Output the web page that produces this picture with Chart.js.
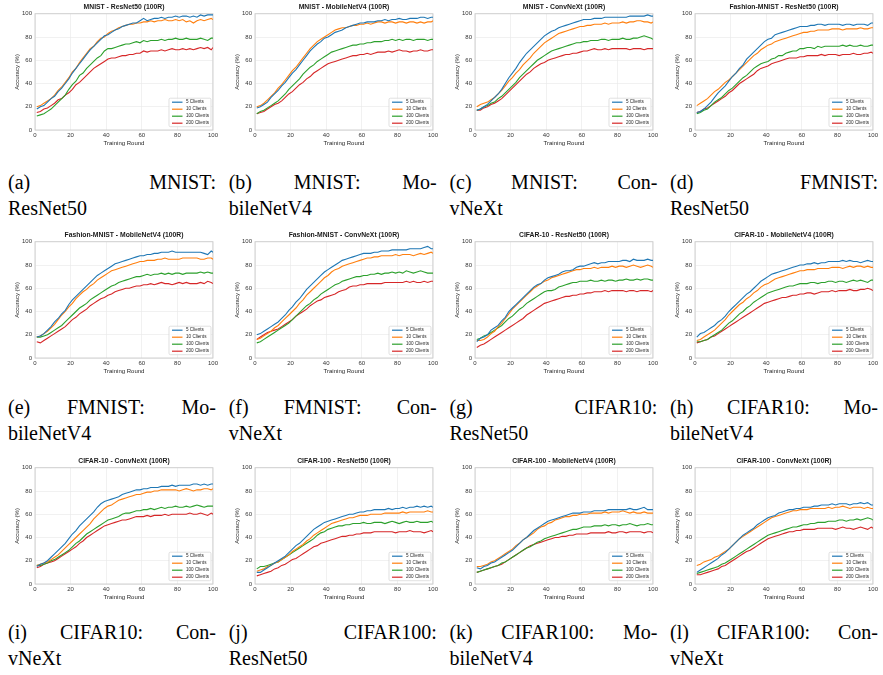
<!DOCTYPE html>
<html><head><meta charset="utf-8">
<script src="https://cdn.jsdelivr.net/npm/chart.js@4/dist/chart.umd.min.js"></script>
<style>
body{margin:0;background:#fff;width:883px;height:675px;position:relative;overflow:hidden}
canvas.c{position:absolute}
.cap{position:absolute;font-family:"Liberation Serif","DejaVu Serif",serif;font-size:20px;color:#000;width:208px;line-height:26px;white-space:nowrap}
.l1{display:flex;justify-content:space-between}
</style></head><body>
<script>
const rounds = [1,3,5,7,9,11,13,15,17,19,21,23,25,27,29,31,33,35,37,39,41,43,45,47,49,51,53,55,57,59,61,63,65,67,69,71,73,75,77,79,81,83,85,87,89,91,93,95,97,99,100];

// MNIST - ResNet50
const mnR5   = [18,20,21,24,27,29,33,36,40,44,49,53,57,61,65,69,72,75,78,81,82,84,86,87,89,90,91,92,92,94,96,94,95,96,96,97,96,97,97,98,97,98,98,97,98,97,99,98,99,99,99];
const mnR10  = [20,21,23,25,27,30,34,37,41,45,50,53,58,62,66,70,72,76,79,80,83,85,86,88,89,90,91,91,92,92,93,93,94,93,94,94,95,94,94,95,94,95,93,94,92,94,95,94,95,96,95];
const mnR100 = [12,13,14,16,18,21,24,27,30,35,39,42,47,49,53,56,59,62,64,68,70,70,71,72,73,74,74,75,76,75,77,76,77,77,77,78,77,78,78,79,78,78,79,78,78,78,79,78,77,79,79];
const mnR200 = [15,16,18,19,21,23,26,27,30,32,35,39,41,44,47,50,53,55,57,59,61,62,62,63,64,64,65,65,66,66,68,67,68,68,68,69,68,69,70,69,69,70,69,70,69,70,71,70,71,69,71];
// MNIST - MobileNetV4
const mnM5   = [19,20,22,24,28,31,34,38,41,45,49,52,56,60,64,68,71,74,76,79,80,82,84,85,86,88,89,90,91,92,92,93,93,93,94,94,95,94,95,95,96,95,95,96,96,96,97,97,96,97,97];
const mnM10  = [20,21,23,26,29,32,36,39,43,47,51,54,58,62,66,70,73,76,78,80,82,84,86,87,88,88,89,90,90,91,91,92,91,92,93,93,92,93,93,92,93,93,92,93,93,92,93,92,93,93,94];
const mnM100 = [14,16,17,19,21,23,25,28,31,35,38,41,44,48,51,54,56,59,61,63,65,67,68,69,70,71,72,73,73,74,74,75,75,76,76,76,77,77,78,77,78,77,78,78,77,78,78,78,77,78,78];
const mnM200 = [14,15,16,18,20,22,23,25,28,31,33,36,39,41,44,46,49,51,53,55,57,58,59,60,61,62,63,64,64,65,65,66,65,66,67,67,67,68,67,68,69,68,68,67,68,68,69,68,68,69,69];
// MNIST - ConvNeXt
const mnC5   = [17,18,20,22,25,28,31,35,40,45,49,53,58,62,66,69,72,75,78,81,83,85,86,88,89,90,91,92,93,94,95,95,95,96,96,96,97,97,97,97,97,97,97,98,98,98,98,98,99,98,98];
const mnC10  = [20,22,23,24,26,28,31,34,38,42,45,49,52,56,59,62,66,69,72,75,77,79,81,83,84,85,86,87,88,89,89,90,90,91,91,91,92,91,92,92,92,93,92,93,93,94,94,93,93,92,93];
const mnC100 = [17,18,20,21,23,24,27,29,32,35,38,41,45,48,51,54,57,60,62,64,66,68,69,70,71,72,73,74,75,75,76,76,77,77,77,78,78,77,78,78,78,79,78,78,79,79,80,81,80,79,78];
const mnC200 = [17,17,19,20,22,23,25,27,30,33,36,39,42,45,48,50,53,55,57,58,60,61,62,63,64,65,65,66,66,67,68,68,69,70,69,69,70,69,70,70,70,70,70,69,70,70,70,69,70,70,70];
// Fashion-MNIST - ResNet50
const fmR5   = [15,16,18,21,24,28,32,35,38,42,46,49,53,56,61,64,67,70,73,76,78,79,82,83,84,85,86,87,88,89,89,89,90,90,91,91,90,91,91,91,91,90,91,91,90,91,91,91,90,92,92];
const fmR10  = [21,23,25,27,30,33,35,38,41,43,46,49,52,55,58,61,64,66,69,71,73,74,76,77,78,79,80,81,82,83,84,84,85,85,86,86,86,86,87,87,87,86,87,87,87,87,88,87,87,88,88];
const fmR100 = [14,15,17,18,21,24,26,28,31,34,36,39,42,45,47,50,53,55,57,58,59,61,62,64,64,66,67,68,68,70,70,71,71,70,72,71,72,72,72,72,72,73,72,73,72,72,73,72,72,73,73];
const fmR200 = [15,16,18,19,21,23,25,27,29,32,34,37,40,42,44,46,48,51,53,54,55,57,58,59,60,61,62,62,62,63,63,64,64,64,64,65,64,65,65,65,64,65,65,65,66,65,65,66,66,67,66];
// Fashion-MNIST - MobileNetV4
const fmM5   = [18,19,21,24,27,31,34,38,41,46,50,53,56,59,62,65,68,71,73,75,77,79,81,82,83,84,85,86,87,88,88,89,89,90,90,91,91,91,92,91,91,91,91,91,91,91,91,90,89,92,91];
const fmM10  = [18,19,21,23,26,29,33,37,40,44,47,51,54,57,59,62,64,67,69,71,73,75,76,77,78,79,80,81,82,83,83,84,84,84,85,85,86,85,85,85,85,86,86,86,86,86,85,85,86,86,85];
const fmM100 = [18,18,19,20,22,24,26,28,31,34,37,40,43,45,47,50,52,54,56,58,60,62,63,65,66,67,68,69,70,70,71,72,71,72,72,73,72,73,72,73,73,72,73,73,73,73,74,73,74,73,73];
const fmM200 = [14,13,15,17,19,21,23,25,27,30,33,35,38,40,42,45,47,49,51,52,54,55,57,58,59,60,60,61,62,62,63,63,64,63,64,65,64,64,63,64,65,64,65,64,64,64,65,64,66,65,64];
// Fashion-MNIST - ConvNeXt
const fmC5   = [20,21,23,25,27,29,31,34,37,41,44,48,51,55,59,62,65,68,71,74,76,78,80,82,84,85,86,87,88,89,90,90,90,91,91,92,92,92,93,93,93,93,93,94,94,94,94,95,96,94,94];
const fmC10  = [16,17,19,21,23,26,28,31,34,37,40,43,47,50,54,57,60,63,66,69,71,74,76,77,79,80,81,82,83,84,85,86,86,87,87,88,88,88,88,89,88,89,89,89,88,89,90,89,90,91,90];
const fmC100 = [13,14,16,18,20,22,24,26,28,30,33,36,39,42,45,47,50,52,55,57,59,61,63,64,66,67,68,69,70,70,71,71,72,72,73,72,73,73,74,73,74,73,75,74,73,74,75,74,73,73,73];
const fmC200 = [16,18,20,22,23,24,25,27,29,31,33,36,38,40,42,45,47,49,50,52,53,54,55,57,58,59,61,62,62,63,63,64,64,64,64,64,65,65,65,65,65,65,66,65,66,65,65,66,65,66,66];
// CIFAR-10 - ResNet50
const c10R5   = [14,17,18,20,24,26,28,32,35,40,43,46,49,52,55,58,61,63,64,67,69,70,71,72,74,75,75,76,78,79,79,80,81,82,81,82,82,83,83,83,83,84,84,83,85,84,84,84,85,84,84];
const c10R10  = [15,15,16,18,21,23,27,30,34,38,42,45,48,51,54,57,60,62,64,66,67,69,70,71,72,73,74,75,76,76,77,77,77,78,77,78,78,78,79,78,79,79,78,79,80,79,78,79,80,79,78];
const c10R100 = [16,17,19,20,22,24,26,28,31,34,36,39,42,44,47,49,51,53,55,57,58,58,59,61,62,63,64,65,65,66,66,66,67,66,66,67,66,67,67,66,67,67,68,67,67,68,67,68,68,67,67];
const c10R200 = [9,11,12,14,16,18,20,22,24,26,28,30,32,34,37,39,41,43,45,47,48,49,50,51,52,53,53,54,54,55,55,56,56,57,57,57,58,57,58,58,58,58,57,58,58,57,58,58,58,57,58];
// CIFAR-10 - MobileNetV4
const c10M5   = [18,21,22,24,26,28,31,33,36,40,43,46,49,52,55,57,60,63,66,68,70,72,73,74,75,76,77,78,79,80,80,81,81,82,81,82,82,83,83,83,83,84,83,84,83,83,82,83,84,83,83];
const c10M10  = [15,16,18,20,22,24,27,30,33,37,40,43,46,48,51,53,56,58,61,63,64,66,68,69,70,71,72,73,74,75,75,76,76,76,77,77,77,77,78,78,78,77,78,79,78,79,79,78,79,78,78];
const c10M100 = [14,14,15,16,18,20,22,24,27,30,32,35,38,40,43,45,48,50,52,54,56,57,58,59,60,61,62,62,63,64,64,64,65,65,64,65,65,66,66,65,66,66,65,66,67,66,67,66,65,67,67];
const c10M200 = [13,14,15,16,18,19,21,23,25,27,29,31,33,35,37,39,41,43,45,47,48,49,50,51,52,52,53,54,54,55,55,56,56,55,56,57,57,57,58,57,58,58,58,59,58,58,59,59,60,59,58];
// CIFAR-10 - ConvNeXt
const c10C5   = [15,17,18,20,23,26,29,32,35,39,43,46,50,53,56,59,62,66,69,71,72,73,74,75,77,78,79,80,81,81,82,82,83,83,83,84,84,84,85,84,85,85,85,85,86,86,85,86,85,86,86];
const c10C10  = [16,17,18,19,21,23,25,28,31,34,37,40,43,46,49,52,56,59,62,65,67,68,70,72,73,74,75,76,77,77,78,79,79,80,80,81,81,81,81,81,80,81,82,81,80,81,81,82,82,81,82];
const c10C100 = [16,16,17,18,20,21,23,25,27,29,32,35,37,40,43,45,47,49,51,53,55,56,57,58,60,61,61,62,63,63,64,64,65,64,65,66,65,66,66,67,66,66,67,66,67,68,67,66,67,67,67];
const c10C200 = [14,15,17,18,19,20,22,24,26,28,30,32,35,37,40,42,44,46,48,50,51,52,53,54,55,55,56,57,58,58,58,59,58,59,59,59,60,59,60,60,60,60,60,61,60,60,61,60,59,61,60];
// CIFAR-100 - ResNet50
const c100R5   = [10,10,12,14,16,18,20,22,24,27,30,33,35,38,41,44,47,49,51,53,54,55,56,57,58,59,60,60,61,62,62,63,63,64,64,64,64,65,64,65,65,66,65,66,66,67,66,67,66,67,66];
const c100R10  = [11,12,13,15,16,18,19,21,23,25,28,30,32,34,37,39,42,44,46,48,50,52,53,54,55,56,57,57,58,59,59,59,60,60,60,60,61,61,61,61,61,62,61,62,62,62,62,62,63,62,62];
const c100R100 = [13,15,15,16,17,18,19,21,23,25,27,29,31,33,35,37,39,42,44,45,47,48,49,50,50,51,51,52,52,52,53,52,52,53,53,53,52,53,54,53,52,53,54,53,53,54,53,53,53,54,53];
const c100R200 = [7,8,9,10,11,13,14,16,17,19,21,22,24,26,28,30,32,33,35,36,37,38,39,40,41,41,42,42,43,43,44,44,44,45,45,45,45,45,45,44,45,45,45,46,45,45,45,44,45,46,45];
// CIFAR-100 - MobileNetV4
const c100M5   = [14,13,15,16,18,19,21,23,25,27,29,32,35,38,40,43,46,48,50,52,54,55,56,57,58,59,60,61,61,61,62,62,62,63,63,63,63,64,64,64,64,64,64,65,64,64,65,66,64,64,64];
const c100M10  = [15,15,16,17,19,20,22,24,26,28,30,33,35,38,40,42,44,47,49,50,52,53,55,56,57,58,58,59,59,60,60,60,61,61,61,61,62,61,62,62,62,63,62,61,62,61,61,62,61,61,61];
const c100M100 = [10,11,12,13,14,15,16,18,19,21,23,25,27,29,31,32,34,36,37,39,40,41,42,43,44,45,46,47,47,48,49,49,49,50,50,50,51,50,51,51,50,51,51,52,51,50,51,51,52,51,51];
const c100M200 = [10,11,12,13,14,15,16,17,19,21,23,25,27,29,31,33,34,35,36,37,38,39,40,40,41,41,42,42,43,43,43,43,44,44,44,44,44,45,44,44,45,45,44,45,45,45,45,44,45,45,44];
// CIFAR-100 - ConvNeXt
const c100C5   = [10,12,14,16,18,20,22,25,27,30,33,36,39,42,44,46,48,51,53,55,57,58,59,61,62,63,64,64,65,65,66,66,66,67,67,68,68,68,69,68,69,69,69,68,69,69,70,69,70,68,68];
const c100C10  = [16,17,19,20,21,23,24,26,28,30,33,36,39,41,43,45,47,49,51,53,55,57,58,59,60,61,62,63,63,64,64,64,65,65,65,65,65,66,65,66,66,67,66,65,66,66,66,65,66,65,65];
const c100C100 = [9,10,11,12,13,14,15,17,18,20,22,24,26,28,30,32,34,36,38,40,42,43,44,45,46,47,48,49,49,50,51,51,52,52,53,53,53,54,54,54,55,55,54,55,55,56,55,56,57,56,55];
const c100C200 = [8,8,9,10,11,12,13,15,16,18,20,22,24,26,28,29,31,33,35,37,39,40,41,42,43,44,45,45,46,46,47,47,47,47,48,48,48,48,48,47,48,49,48,48,47,48,49,48,47,49,48];

const seriesLabels = ['5 Clients','10 Clients','100 Clients','200 Clients'];
const seriesColors = ['#1f77b4','#ff7f0e','#2ca02c','#d62728'];
const panelTitles = ['MNIST - ResNet50 (100R)','MNIST - MobileNetV4 (100R)','MNIST - ConvNeXt (100R)','Fashion-MNIST - ResNet50 (100R)',
  'Fashion-MNIST - MobileNetV4 (100R)','Fashion-MNIST - ConvNeXt (100R)','CIFAR-10 - ResNet50 (100R)','CIFAR-10 - MobileNetV4 (100R)',
  'CIFAR-10 - ConvNeXt (100R)','CIFAR-100 - ResNet50 (100R)','CIFAR-100 - MobileNetV4 (100R)','CIFAR-100 - ConvNeXt (100R)'];
const captionLine1 = [['(a)','MNIST:'],['(b)','MNIST:','Mo-'],['(c)','MNIST:','Con-'],['(d)','FMNIST:'],
  ['(e)','FMNIST:','Mo-'],['(f)','FMNIST:','Con-'],['(g)','CIFAR10:'],['(h)','CIFAR10:','Mo-'],
  ['(i)','CIFAR10:','Con-'],['(j)','CIFAR100:'],['(k)','CIFAR100:','Mo-'],['(l)','CIFAR100:','Con-']];
const captionLine2 = ['ResNet50','bileNetV4','vNeXt','ResNet50','bileNetV4','vNeXt','ResNet50','bileNetV4','vNeXt','ResNet50','bileNetV4','vNeXt'];
const panelSeries = [
  [mnR5,mnR10,mnR100,mnR200],[mnM5,mnM10,mnM100,mnM200],[mnC5,mnC10,mnC100,mnC200],[fmR5,fmR10,fmR100,fmR200],
  [fmM5,fmM10,fmM100,fmM200],[fmC5,fmC10,fmC100,fmC200],[c10R5,c10R10,c10R100,c10R200],[c10M5,c10M10,c10M100,c10M200],
  [c10C5,c10C10,c10C100,c10C200],[c100R5,c100R10,c100R100,c100R200],[c100M5,c100M10,c100M100,c100M200],[c100C5,c100C10,c100C100,c100C200]];

const chartLeft = [0,220,440,660], chartTop = [0,228,454];
const capLeft = [8,228.7,449.4,670], capTop = [169,394,619];
const SANS = '"Liberation Sans", Arial, sans-serif';

const decor = {
  id: 'decor',
  afterLayout(chart) {
    const t = chart.titleBlock, a = chart.chartArea;
    if (t && a) { t.left = a.left; t.right = a.right; }
  },
  beforeDatasetsDraw(chart) {
    const {ctx, chartArea: a} = chart;
    ctx.save();
    ctx.strokeStyle = '#cccccc'; ctx.lineWidth = 0.9;
    ctx.strokeRect(a.left, a.top, a.right - a.left, a.bottom - a.top);
    ctx.restore();
  },
  afterDraw(chart) {
    const {ctx, chartArea: a} = chart;
    const w = 42, h = 28.5, x = a.right - 2 - w, y = a.bottom - 3.3 - h;
    ctx.save();
    ctx.beginPath(); ctx.roundRect(x, y, w, h, 1.5);
    ctx.fillStyle = 'rgba(255,255,255,0.85)'; ctx.fill();
    ctx.strokeStyle = '#cccccc'; ctx.lineWidth = 0.6; ctx.stroke();
    chart.data.datasets.forEach((ds, i) => {
      const yy = y + 4 + 7 * i;
      ctx.strokeStyle = ds.borderColor; ctx.lineWidth = 1.2;
      ctx.beginPath(); ctx.moveTo(x + 3, yy); ctx.lineTo(x + 13.5, yy); ctx.stroke();
      ctx.fillStyle = '#262626'; ctx.font = '4.6px ' + SANS; ctx.textBaseline = 'middle';
      ctx.fillText(ds.label, x + 17, yy);
    });
    ctx.restore();
  }
};

panelTitles.forEach((title, p) => {
  const col = p % 4, row = Math.floor(p / 4);
  const cv = document.createElement('canvas');
  cv.className = 'c'; cv.width = 220; cv.height = 150;
  cv.style.left = chartLeft[col] + 'px'; cv.style.top = chartTop[row] + 'px';
  document.body.appendChild(cv);

  const cap = document.createElement('div');
  cap.className = 'cap';
  cap.style.left = capLeft[col] + 'px'; cap.style.top = capTop[row] + 'px';
  const l1 = document.createElement('div'); l1.className = 'l1';
  captionLine1[p].forEach(wd => { const s = document.createElement('span'); s.textContent = wd; l1.appendChild(s); });
  const l2 = document.createElement('div'); l2.textContent = captionLine2[p];
  cap.appendChild(l1); cap.appendChild(l2);
  document.body.appendChild(cap);

  const datasets = panelSeries[p].map((vals, s) => ({
    label: seriesLabels[s],
    data: rounds.map((r, k) => ({x: r, y: vals[k]})),
    borderColor: seriesColors[s], backgroundColor: seriesColors[s],
    borderWidth: 1.1, pointRadius: 0, tension: 0, fill: false
  }));

  new Chart(cv, {
    type: 'line',
    data: {datasets},
    plugins: [decor],
    options: {
      responsive: false, animation: false, devicePixelRatio: 1,
      layout: {padding: {left: 0, right: 7, top: 0, bottom: 0}},
      plugins: {
        legend: {display: false}, tooltip: {enabled: false},
        title: {display: true, text: title, color: '#1a1a1a',
          font: {family: SANS, size: 6.8, weight: 'bold', lineHeight: 1.2},
          padding: {top: 3, bottom: 2.6}}
      },
      scales: {
        x: {type: 'linear', min: 0, max: 100,
          ticks: {stepSize: 20, color: '#333', font: {family: SANS, size: 6}, padding: 2, maxRotation: 0},
          grid: {color: '#ebebeb', lineWidth: 0.7, drawTicks: false},
          border: {display: false},
          title: {display: true, text: 'Training Round', color: '#262626', font: {family: SANS, size: 6, lineHeight: 1.2}, padding: {top: 0, bottom: 3.1}},
          afterFit: s => { s.height = 20; }
        },
        y: {min: 0, max: 100,
          ticks: {stepSize: 20, color: '#333', font: {family: SANS, size: 6}, padding: 3},
          grid: {color: '#ebebeb', lineWidth: 0.7, drawTicks: false},
          border: {display: false},
          title: {display: true, text: 'Accuracy (%)', color: '#262626', font: {family: SANS, size: 6, lineHeight: 1.2}, padding: {top: 13.4, bottom: 0}},
          afterFit: s => { s.width = 35; }
        }
      }
    }
  });
});
</script>
</body></html>
